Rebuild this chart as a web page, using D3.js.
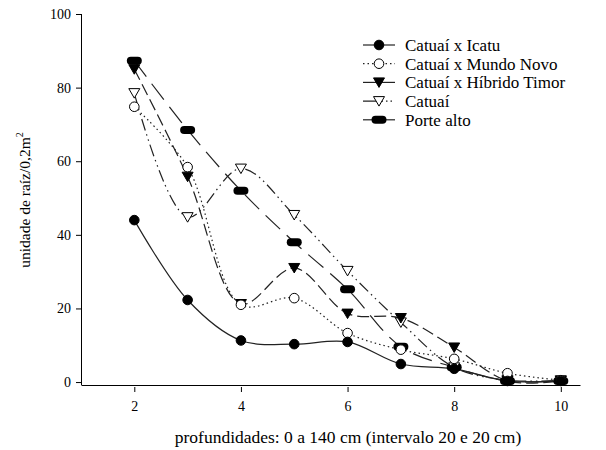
<!DOCTYPE html>
<html lang="pt">
<head>
  <meta charset="UTF-8">
  <title>Unidade de raíz por profundidade</title>
  <script src="https://d3js.org/d3.v7.min.js"></script>
  <style>
    body { margin: 0; background: #fff; }
    svg text { font-family: "Liberation Serif", "Times New Roman", serif; fill: #000; }
    .axis path, .axis line { stroke: #000; }
  </style>
</head>
<body>
<svg width="606" height="450"></svg>

<script>
  // profundidade (camadas de 20 cm)
  const depths = [2, 3, 4, 5, 6, 7, 8, 9, 10];

  const icatu       = [44, 22.3, 11.3, 10.3, 10.9, 4.9, 3.6, 0.3, 0.3];
  const mundoNovo   = [74.8, 58.4, 21, 22.8, 13.3, 8.8, 6.3, 2.4, 0.5];
  const hibrido     = [85, 55.8, 21.2, 31, 18.6, 17.4, 9.4, 0.3, 0.3];
  const catuai      = [78.5, 44.8, 58, 45.4, 30.2, 16.2, 4, 0.5, 0.5];
  const porteAlto   = [87.3, 68.5, 52, 38, 25.2, 9.6, 4, 0.3, 0.3];

  const xTicks = [2, 4, 6, 8, 10];
  const yTicks = [0, 20, 40, 60, 80, 100];

  const series = [
    { name: "Catuaí x Icatu",         values: icatu,     dash: null,          marker: "circle" },
    { name: "Catuaí x Mundo Novo",    values: mundoNovo, dash: "1.5,3",       marker: "circleOpen" },
    { name: "Catuaí x Híbrido Timor", values: hibrido,   dash: "12,5",        marker: "triDown" },
    { name: "Catuaí",                 values: catuai,    dash: "12,4,1.5,4,1.5,4", marker: "triOpen" },
    { name: "Porte alto",             values: porteAlto, dash: "20,9",        marker: "bar" }
  ];

  const serif = '"Liberation Serif", "Times New Roman", serif';
  const svg = d3.select("svg");

  const x = d3.scaleLinear().domain([1, 10.36]).range([81, 580]);
  const y = d3.scaleLinear().domain([-0.8, 100]).range([385, 14]);

  // y-axis
  const yAxis = svg.append("g")
    .attr("class", "axis")
    .attr("transform", "translate(81,0)")
    .call(d3.axisLeft(y).tickValues(yTicks).tickSize(5).tickSizeOuter(0).tickPadding(5));
  yAxis.select(".domain").attr("d", `M0.5,${y(100)}V385`);
  yAxis.selectAll("text").style("font-family", serif).style("font-size", "14px");

  // x-axis
  const xAxis = svg.append("g")
    .attr("class", "axis")
    .attr("transform", "translate(0,385)")
    .call(d3.axisBottom(x).tickValues(xTicks).tickSize(6).tickSizeOuter(0).tickPadding(10));
  xAxis.selectAll(".tick line").attr("y1", 2).attr("y2", 7);
  xAxis.selectAll("text").style("font-family", serif).style("font-size", "14px");

  // axis titles
  svg.append("text")
    .attr("x", 348).attr("y", 443)
    .attr("text-anchor", "middle")
    .style("font-family", serif)
    .style("font-size", "17.5px")
    .text("profundidades: 0 a 140 cm (intervalo 20 e 20 cm)");

  const yl = svg.append("text")
    .attr("transform", "translate(30,200) rotate(-90)")
    .attr("text-anchor", "middle")
    .style("font-family", serif)
    .style("font-size", "15.5px");
  yl.append("tspan").text("unidade de raíz/0,2m");
  yl.append("tspan").attr("dy", -7).style("font-size", "10px").text("2");

  const line = d3.line()
    .x((d, i) => x(depths[i]))
    .y(d => y(d))
    .curve(d3.curveCatmullRom.alpha(0.5));

  function drawMarker(g, type, cx, cy) {
    if (type === "circle" || type === "circleOpen") {
      g.append("circle").attr("cx", cx).attr("cy", cy).attr("r", 4.8)
        .attr("fill", type === "circle" ? "#000" : "#fff")
        .attr("stroke", "#000").attr("stroke-width", 1);
    } else if (type === "triDown" || type === "triOpen") {
      g.append("path")
        .attr("d", `M${cx - 5.5},${cy - 4.5}L${cx + 5.5},${cy - 4.5}L${cx},${cy + 5}Z`)
        .attr("fill", type === "triDown" ? "#000" : "#fff")
        .attr("stroke", "#000").attr("stroke-width", 1);
    } else if (type === "bar") {
      g.append("rect").attr("x", cx - 7.5).attr("y", cy - 4)
        .attr("width", 15).attr("height", 8).attr("rx", 4)
        .attr("fill", "#000");
    }
  }

  // lines
  series.forEach(s => {
    svg.append("path")
      .datum(s.values)
      .attr("d", line)
      .attr("fill", "none")
      .attr("stroke", "#222")
      .attr("stroke-width", 1.2)
      .attr("stroke-dasharray", s.dash);
  });

  // markers
  series.slice().reverse().forEach(s => {
    const g = svg.append("g");
    s.values.forEach((v, i) => drawMarker(g, s.marker, x(depths[i]), y(v)));
  });

  // legend
  const legendDash = [null, "1.5,3", null, "20,3,1.5,3,1.5,3", null];
  const legend = svg.append("g").attr("transform", "translate(363,45)");
  series.forEach((s, i) => {
    const row = legend.append("g").attr("transform", `translate(0,${i * 18.7})`);
    row.append("line").attr("x1", 0).attr("x2", 32).attr("y1", 0).attr("y2", 0)
      .attr("stroke", "#222").attr("stroke-width", 1.2)
      .attr("stroke-dasharray", legendDash[i]);
    drawMarker(row, s.marker, 16, 0);
    row.append("text").attr("x", 42).attr("y", 0).attr("dy", "0.35em")
      .style("font-family", serif)
      .style("font-size", "17px").text(s.name);
  });
</script>
</body>
</html>
